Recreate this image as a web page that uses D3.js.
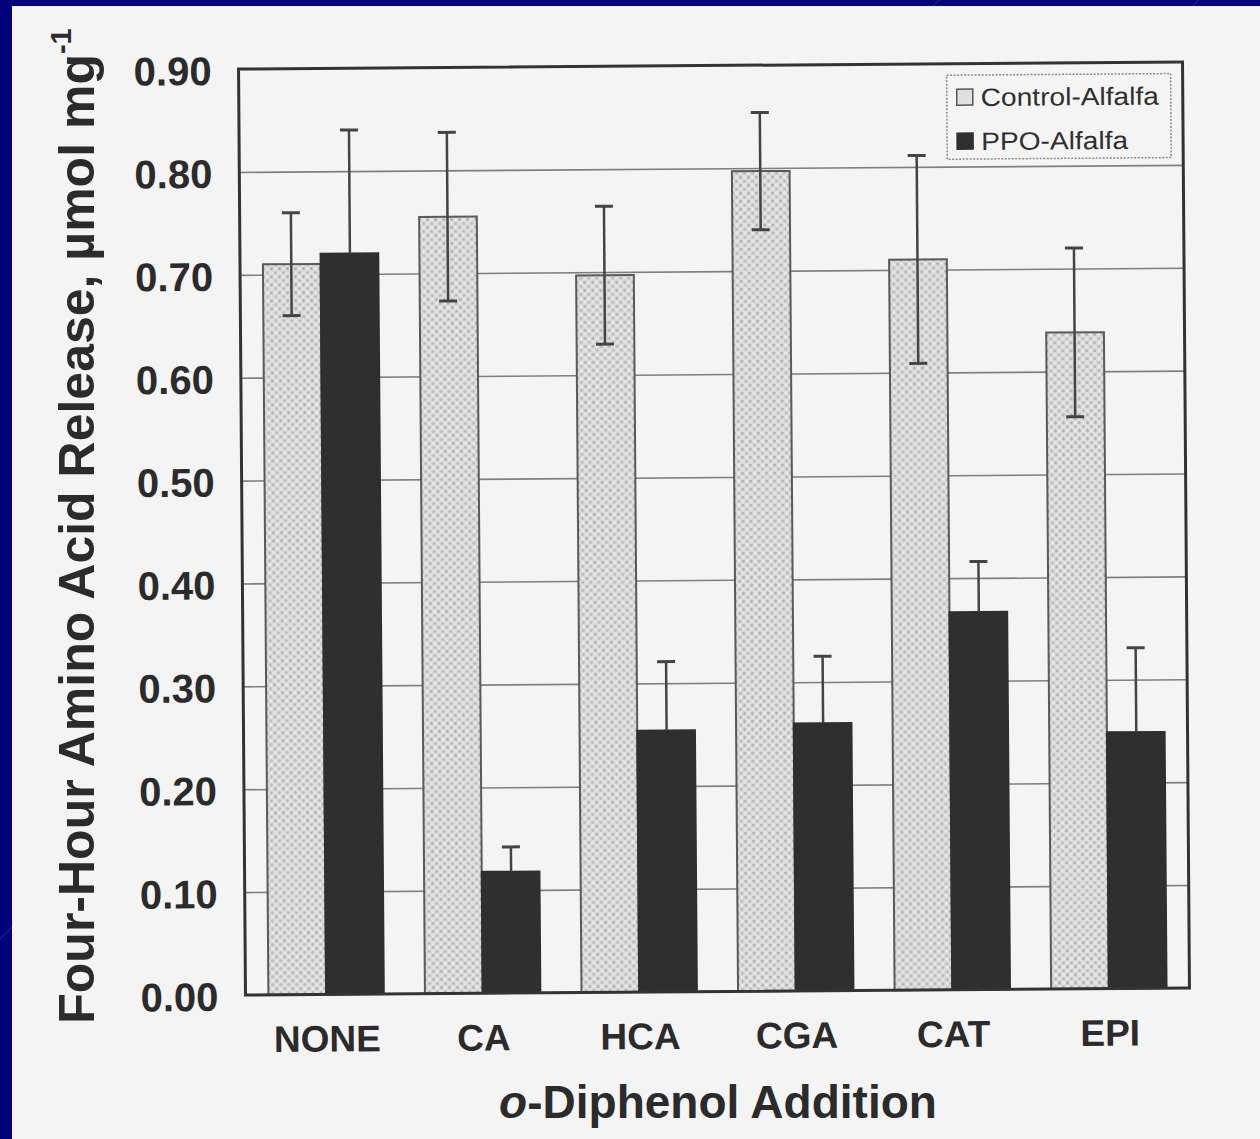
<!DOCTYPE html>
<html>
<head>
<meta charset="utf-8">
<script src="https://cdn.jsdelivr.net/npm/d3@7"></script>
<style>
  html, body { margin: 0; padding: 0; background: #02027c; }
  svg { display: block; }
  text { font-family: "Liberation Sans", Arial, Helvetica, sans-serif; }
</style>
</head>
<body>
<svg id="chart" width="1260" height="1139"></svg>
<script>
// Amino acid release data, per o-diphenol treatment
const categories = ["NONE", "CA", "HCA", "CGA", "CAT", "EPI"];
const seriesNames = ["Control-Alfalfa", "PPO-Alfalfa"];
const controlValues = [0.710, 0.755, 0.697, 0.797, 0.710, 0.638];
const controlErrors = [0.050, 0.082, 0.067, 0.057, 0.101, 0.082];
const ppoValues = [0.720, 0.118, 0.254, 0.260, 0.367, 0.249];
const ppoErrors = [0.120, 0.024, 0.067, 0.065, 0.049, 0.082];
const yTickValues = [0, 0.1, 0.2, 0.3, 0.4, 0.5, 0.6, 0.7, 0.8, 0.9];
const yTitle = "Four-Hour Amino Acid Release, \u00b5mol mg";
const yTitleSup = "-1";
const xTitleItalic = "o";
const xTitleRest = "-Diphenol Addition";

const rows = categories.map((c, i) => ({
  category: c,
  values: [
    { series: seriesNames[0], value: controlValues[i], err: controlErrors[i] },
    { series: seriesNames[1], value: ppoValues[i], err: ppoErrors[i] }
  ]
}));

const svg = d3.select("#chart");
const W = 1260, H = 1139;
const ink = "#2b2b2b";
const darkFill = "#2f2f2f";

// navy slide backdrop with faint diagonal streaks
svg.append("rect").attr("width", W).attr("height", H).attr("fill", "#02027c");
const streaks = svg.append("g").attr("stroke", "#3a3ab4").attr("stroke-width", 1).attr("opacity", 0.7);
[-200, 60, 330, 610, 900, 1180].forEach(o => {
  streaks.append("line").attr("x1", o).attr("y1", H).attr("x2", o + H).attr("y2", 0);
});

// paper sheet
svg.append("rect").attr("x", 12).attr("y", 6).attr("width", W - 12).attr("height", H - 6)
  .attr("fill", "#f4f4f4");

// stippled fill for the control bars
const defs = svg.append("defs");
const pat = defs.append("pattern").attr("id", "stipple")
  .attr("patternUnits", "userSpaceOnUse").attr("width", 8).attr("height", 8);
pat.append("rect").attr("width", 8).attr("height", 8).attr("fill", "#d9d9d9");
[[1.5, 1.5, "#a8a8a8"], [5.5, 5.5, "#b4b4b4"], [5.5, 1.5, "#efefef"], [1.5, 5.5, "#e8e8e8"]]
  .forEach(([cx, cy, f]) => pat.append("circle").attr("cx", cx).attr("cy", cy).attr("r", 1.3).attr("fill", f));

// plot frame geometry
const plotLeft = 242, plotRight = 1186, plotTop = 65.5, plotBottom = 991.5;
const plotW = plotRight - plotLeft, plotH = plotBottom - plotTop;

const g = svg.append("g")
  .attr("transform", `rotate(-0.43 ${(plotLeft + plotRight) / 2} ${(plotTop + plotBottom) / 2})`);

const x0 = d3.scaleBand().domain(categories).range([plotLeft, plotRight])
  .paddingInner(0.25).paddingOuter(0.14);
const x1 = d3.scaleBand().domain(seriesNames).range([0, x0.bandwidth()]);
const y = d3.scaleLinear().domain([0, 0.9]).range([plotBottom, plotTop]);

// horizontal gridlines
const grid = g.append("g").attr("transform", `translate(${plotLeft},0)`)
  .call(d3.axisLeft(y).tickValues(yTickValues.slice(1, -1)).tickSize(-plotW).tickFormat(""));
grid.select(".domain").remove();
grid.selectAll("line").attr("stroke", "#7f7f7f").attr("stroke-width", 1.6);

// bars
const groups = g.selectAll(".grp").data(rows).join("g")
  .attr("transform", d => `translate(${x0(d.category)},0)`);

groups.selectAll("rect").data(d => d.values).join("rect")
  .attr("x", d => x1(d.series) + (d.series === seriesNames[0] ? 1 : 0))
  .attr("width", d => x1.bandwidth() - 1)
  .attr("y", d => y(d.value))
  .attr("height", d => y(0) - y(d.value))
  .attr("fill", d => d.series === seriesNames[0] ? "url(#stipple)" : darkFill)
  .attr("stroke", d => d.series === seriesNames[0] ? "#5a5a5a" : darkFill)
  .attr("stroke-width", 2);

// error bars (the lower arm of a dark bar's whisker disappears into the bar)
const errG = groups.selectAll(".err").data(d => d.values).join("g")
  .attr("transform", d => `translate(${x1(d.series) + x1.bandwidth() / 2},0)`);
const lowColor = d => d.series === seriesNames[0] ? "#444" : darkFill;
errG.append("line")
  .attr("y1", d => y(d.value)).attr("y2", d => y(d.value + d.err))
  .attr("stroke", "#444").attr("stroke-width", 2.5);
errG.append("line")
  .attr("y1", d => y(d.value - d.err)).attr("y2", d => y(d.value))
  .attr("stroke", lowColor).attr("stroke-width", 2.5);
errG.append("line")
  .attr("x1", -9).attr("x2", 9)
  .attr("y1", d => y(d.value + d.err)).attr("y2", d => y(d.value + d.err))
  .attr("stroke", "#444").attr("stroke-width", 3);
errG.append("line")
  .attr("x1", -9).attr("x2", 9)
  .attr("y1", d => y(d.value - d.err)).attr("y2", d => y(d.value - d.err))
  .attr("stroke", lowColor).attr("stroke-width", 3);

// frame
g.append("rect").attr("x", plotLeft).attr("y", plotTop).attr("width", plotW).attr("height", plotH)
  .attr("fill", "none").attr("stroke", "#333").attr("stroke-width", 3);

// y tick labels
const yAxis = g.append("g").attr("transform", `translate(${plotLeft},0)`)
  .call(d3.axisLeft(y).tickValues(yTickValues).tickSize(0).tickPadding(27).tickFormat(d3.format(".2f")));
yAxis.select(".domain").remove();
yAxis.selectAll("text")
  .attr("font-size", 40).attr("font-weight", "bold").attr("fill", ink)
  .attr("font-family", "Liberation Sans, Arial, sans-serif").attr("dy", "0.38em");

// x tick labels
const xAxis = g.append("g").attr("transform", `translate(1,${plotBottom})`)
  .call(d3.axisBottom(x0).tickSize(0).tickPadding(35));
xAxis.select(".domain").remove();
xAxis.selectAll("text")
  .attr("font-size", 37).attr("font-weight", "bold").attr("fill", ink)
  .attr("font-family", "Liberation Sans, Arial, sans-serif").attr("dy", "0.6em");

// legend
const lg = g.append("g");
lg.append("rect").attr("x", 950).attr("y", 77).attr("width", 224).attr("height", 84)
  .attr("fill", "#f4f4f4").attr("stroke", "#8a8a8a").attr("stroke-width", 1.5)
  .attr("stroke-dasharray", "2,1.5");
const lgItems = lg.selectAll(".item").data(seriesNames).join("g")
  .attr("transform", (d, i) => `translate(960,${99 + i * 44})`);
lgItems.append("rect").attr("x", 0).attr("y", -8).attr("width", 16).attr("height", 16)
  .attr("fill", (d, i) => i === 0 ? "#e0e0e0" : darkFill)
  .attr("stroke", (d, i) => i === 0 ? "#555" : darkFill).attr("stroke-width", 1.5);
lgItems.append("text").attr("x", 24).attr("dy", "0.36em")
  .attr("font-size", 25).attr("fill", "#2f2f2f")
  .attr("textLength", (d, i) => i === 0 ? 178 : 147).attr("lengthAdjust", "spacingAndGlyphs")
  .text(d => d);

// axis titles
const yt = svg.append("text").attr("transform", "translate(94,526) rotate(-90)")
  .attr("text-anchor", "middle").attr("font-size", 50).attr("font-weight", "bold").attr("fill", ink);
yt.append("tspan").text(yTitle);
yt.append("tspan").attr("font-size", 29).attr("dy", -23).text(yTitleSup);

const xt = svg.append("text").attr("x", 718).attr("y", 1118)
  .attr("text-anchor", "middle").attr("font-size", 46).attr("font-weight", "bold").attr("fill", ink);
xt.append("tspan").attr("font-style", "italic").text(xTitleItalic);
xt.append("tspan").text(xTitleRest);
</script>
</body>
</html>
